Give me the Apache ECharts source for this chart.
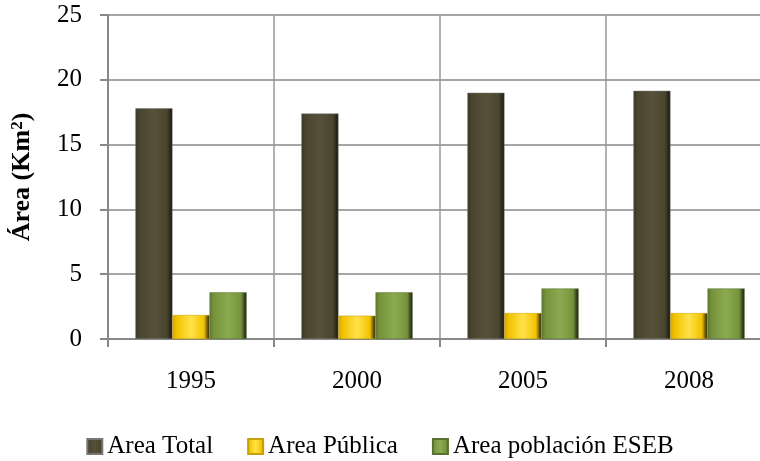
<!DOCTYPE html>
<html><head><meta charset="utf-8">
<script src="https://cdn.jsdelivr.net/npm/echarts@6/dist/echarts.min.js"></script>
<style>html,body{margin:0;padding:0;background:#fff}#c{width:760px;height:461px}</style>
</head><body><div id="c"></div>
<script>
const categories = ['1995', '2000', '2005', '2008'];
const areaTotal = [17.8, 17.4, 19.0, 19.15];
const areaPublica = [1.85, 1.8, 2.0, 2.0];
const areaESEB = [3.6, 3.6, 3.9, 3.9];
const yTicks = [0, 5, 10, 15, 20, 25];

function grad(edge, main, light) {
  return new echarts.graphic.LinearGradient(0, 0, 1, 0, [
    {offset: 0, color: edge}, {offset: 0.12, color: main},
    {offset: 0.5, color: light}, {offset: 0.85, color: main}, {offset: 1, color: '#151510'}
  ]);
}
const font = '"Liberation Serif", "Times New Roman", serif';
const chart = echarts.init(document.getElementById('c'));
chart.setOption({
  animation: false,
  grid: {left: 108, top: 15, right: -12, height: 324, containLabel: false, outerBoundsMode: 'none'},
  legend: {
    left: 'center', top: 429, itemWidth: 15, itemHeight: 15, itemGap: 34,
    icon: 'rect',
    textStyle: {fontFamily: font, fontSize: 25, color: '#000'},
    data: ['Area Total', 'Area Pública', 'Area población ESEB']
  },
  xAxis: {
    type: 'category', data: categories,
    axisLine: {lineStyle: {color: '#888', width: 2}},
    axisTick: {show: true, length: 8, lineStyle: {color: '#888', width: 2}},
    splitLine: {show: true, lineStyle: {color: '#999', width: 1.5}},
    axisLabel: {fontFamily: font, fontSize: 25, color: '#000', margin: 30}
  },
  yAxis: {
    type: 'value', min: 0, max: 25, interval: 5,
    name: '{a|Área (Km}{s|2}{a|)}', nameLocation: 'middle', nameGap: 72,
    nameTextStyle: {rich: {
      a: {fontFamily: font, fontSize: 26, fontWeight: 'bold', color: '#000'},
      s: {fontFamily: font, fontSize: 17, fontWeight: 'bold', color: '#000', verticalAlign: 'top', padding: [0,0,10,0]}
    }},
    axisLine: {show: true, lineStyle: {color: '#888', width: 2}},
    axisTick: {show: true, length: 8, lineStyle: {color: '#888', width: 2}},
    splitLine: {lineStyle: {color: '#888', width: 1.5}},
    axisLabel: {fontFamily: font, fontSize: 25, color: '#000', margin: 26,
      formatter: v => yTicks.includes(v) ? String(v) : ''}
  },
  series: [
    {name: 'Area Total', type: 'bar', data: areaTotal, barGap: '0%', barCategoryGap: '33%',
      itemStyle: {color: grad('#3a3626', '#4a452e', '#57513a'), borderColor: '#777', borderWidth: 0.5}},
    {name: 'Area Pública', type: 'bar', data: areaPublica,
      itemStyle: {color: grad('#d9a800', '#f2c200', '#ffe24a'), borderColor: '#c9a000', borderWidth: 0.5}},
    {name: 'Area población ESEB', type: 'bar', data: areaESEB,
      itemStyle: {color: grad('#5f7a2e', '#76933c', '#8cab50'), borderColor: '#5a7030', borderWidth: 0.5}}
  ]
});
</script></body></html>
